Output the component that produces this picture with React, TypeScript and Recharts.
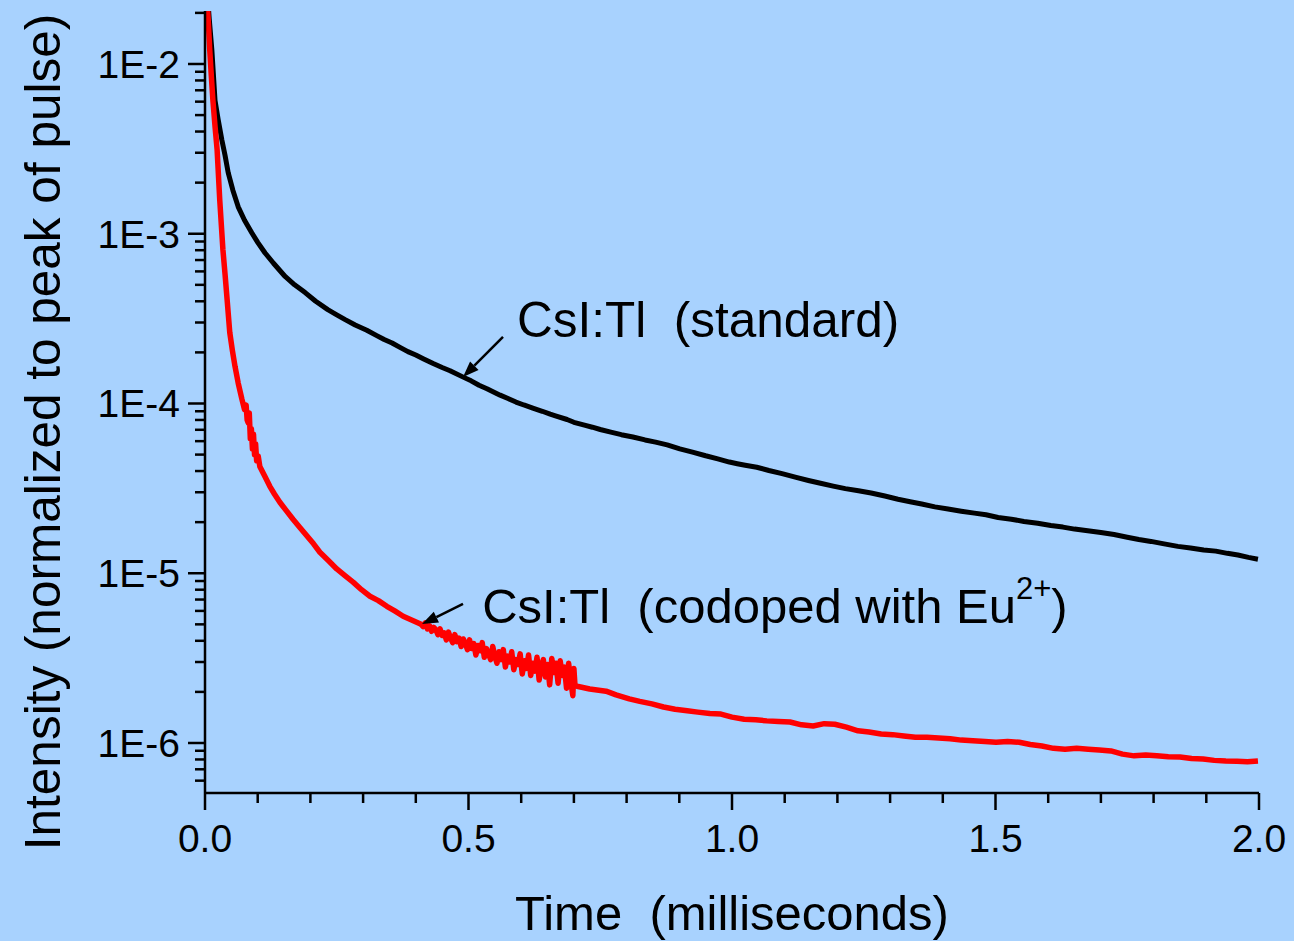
import React from 'react';
import { LineChart, Line, XAxis, YAxis, ReferenceLine, ReferenceDot, Label } from 'recharts';

// ---- data (time in ms, normalized intensity) ----
const standardTime = [
  0.003, 0.008, 0.013, 0.019, 0.025, 0.032, 0.038, 0.044, 0.053, 0.063, 0.075, 0.089, 0.1, 0.114, 0.13,
  0.152, 0.17, 0.19, 0.21, 0.233, 0.25, 0.266, 0.285, 0.307, 0.325, 0.34, 0.355, 0.37, 0.385, 0.4,
  0.415, 0.433, 0.45, 0.465, 0.49, 0.505, 0.52, 0.535, 0.56, 0.575, 0.59, 0.605, 0.622, 0.64, 0.655,
  0.665, 0.687, 0.7, 0.72, 0.735, 0.75, 0.77, 0.79, 0.812, 0.835, 0.855, 0.877, 0.901, 0.925, 0.95,
  0.973, 0.995, 1.01, 1.025, 1.047, 1.07, 1.095, 1.12, 1.145, 1.17, 1.192, 1.215, 1.24, 1.264, 1.29,
  1.315, 1.338, 1.36, 1.385, 1.41, 1.435, 1.46, 1.482, 1.505, 1.53, 1.554, 1.58, 1.605, 1.628, 1.65,
  1.675, 1.7, 1.725, 1.75, 1.772, 1.795, 1.82, 1.846, 1.87, 1.895, 1.918, 1.94, 1.96, 1.98, 1.998,
];
const standardValue = [
  3.0e-2, 1.85e-2, 1.21e-2, 6.1e-3, 4.7e-3, 3.57e-3, 2.9e-3, 2.29e-3, 1.8e-3, 1.44e-3, 1.2e-3, 1.01e-3, 8.9e-4, 7.7e-4, 6.7e-4,
  5.6e-4, 5.0e-4, 4.5e-4, 4.0e-4, 3.57e-4, 3.33e-4, 3.12e-4, 2.9e-4, 2.7e-4, 2.52e-4, 2.38e-4, 2.27e-4, 2.14e-4, 2.02e-4, 1.93e-4,
  1.83e-4, 1.72e-4, 1.63e-4, 1.56e-4, 1.43e-4, 1.36e-4, 1.28e-4, 1.22e-4, 1.12e-4, 1.07e-4, 1.02e-4, 9.8e-5, 9.4e-5, 9.0e-5, 8.65e-5,
  8.45e-5, 8.05e-5, 7.75e-5, 7.45e-5, 7.25e-5, 7.03e-5, 6.78e-5, 6.55e-5, 6.35e-5, 6.1e-5, 5.92e-5, 5.7e-5, 5.4e-5, 5.17e-5, 4.92e-5,
  4.72e-5, 4.52e-5, 4.42e-5, 4.33e-5, 4.21e-5, 4.03e-5, 3.86e-5, 3.68e-5, 3.52e-5, 3.38e-5, 3.26e-5, 3.15e-5, 3.06e-5, 2.97e-5, 2.85e-5,
  2.73e-5, 2.64e-5, 2.56e-5, 2.46e-5, 2.39e-5, 2.32e-5, 2.26e-5, 2.21e-5, 2.13e-5, 2.08e-5, 2.02e-5, 1.97e-5, 1.91e-5, 1.87e-5, 1.82e-5,
  1.78e-5, 1.74e-5, 1.69e-5, 1.63e-5, 1.58e-5, 1.54e-5, 1.49e-5, 1.44e-5, 1.41e-5, 1.37e-5, 1.35e-5, 1.31e-5, 1.28e-5, 1.24e-5, 1.21e-5,
];

const codopedTime = [
  0.002, 0.006, 0.009, 0.012, 0.015, 0.019, 0.023, 0.028, 0.034, 0.038, 0.042, 0.047, 0.052, 0.057, 0.063,
  0.07, 0.075, 0.078, 0.08, 0.082, 0.084, 0.086, 0.088, 0.09, 0.092, 0.094, 0.096, 0.098, 0.101, 0.104,
  0.113, 0.123, 0.132, 0.142, 0.155, 0.167, 0.18, 0.194, 0.206, 0.218, 0.234, 0.25, 0.265, 0.281, 0.297,
  0.313, 0.329, 0.345, 0.36, 0.376, 0.392,
  0.41, 0.414, 0.418, 0.422, 0.426, 0.43, 0.434, 0.438, 0.442, 0.446, 0.45, 0.454, 0.458, 0.462, 0.466,
  0.47, 0.474, 0.478, 0.482, 0.486, 0.49, 0.494, 0.498, 0.502, 0.506, 0.51, 0.514, 0.518, 0.522, 0.526,
  0.53, 0.534, 0.538, 0.542, 0.546, 0.55, 0.554, 0.558, 0.562, 0.566, 0.57, 0.574, 0.578, 0.582, 0.586,
  0.59, 0.594, 0.598, 0.602, 0.606, 0.61, 0.614, 0.618, 0.622, 0.626, 0.63, 0.634, 0.638, 0.642, 0.646,
  0.65, 0.654, 0.658, 0.662, 0.666, 0.67, 0.674, 0.678, 0.682, 0.686, 0.69, 0.694, 0.698, 0.7, 0.702,
  0.706, 0.73, 0.761,
  0.78, 0.805, 0.825, 0.848, 0.87, 0.892, 0.915, 0.935, 0.958, 0.979, 1.0, 1.023, 1.045, 1.066, 1.088,
  1.11, 1.132, 1.154, 1.175, 1.195, 1.217, 1.239, 1.26, 1.283, 1.305, 1.326, 1.348, 1.37, 1.392, 1.414,
  1.435, 1.457, 1.48, 1.501, 1.523, 1.545, 1.566, 1.588, 1.61, 1.632, 1.654, 1.676, 1.697, 1.719, 1.741,
  1.763, 1.785, 1.806, 1.828, 1.85, 1.872, 1.894, 1.915, 1.937, 1.958, 1.978, 1.998,
];
const codopedValue = [
  3.0e-2, 1.85e-2, 1.21e-2, 8.5e-3, 6.1e-3, 4.3e-3, 3.12e-3, 1.58e-3, 8.05e-4, 5.8e-4, 4.09e-4, 2.62e-4, 2.05e-4, 1.65e-4, 1.32e-4,
  1.06e-4, 9.2e-5, 9.8e-5, 8.0e-5, 7.7e-5, 8.8e-5, 6.2e-5, 7.1e-5, 5.4e-5, 6.6e-5, 5.0e-5, 5.8e-5, 4.6e-5, 4.9e-5, 4.26e-5,
  3.75e-5, 3.25e-5, 2.92e-5, 2.62e-5, 2.32e-5, 2.08e-5, 1.86e-5, 1.65e-5, 1.49e-5, 1.33e-5, 1.19e-5, 1.06e-5, 9.7e-6, 8.86e-6, 8.0e-6,
  7.32e-6, 6.9e-6, 6.39e-6, 6.0e-6, 5.58e-6, 5.3e-6,
  5.0e-6, 4.85e-6, 5.1e-6, 4.7e-6, 4.9e-6, 4.55e-6, 4.8e-6, 4.65e-6, 4.35e-6, 4.7e-6, 4.3e-6, 4.45e-6, 4.05e-6, 4.5e-6, 4.15e-6,
  3.9e-6, 4.35e-6, 3.95e-6, 4.15e-6, 3.7e-6, 4.1e-6, 3.85e-6, 3.55e-6, 4.05e-6, 3.6e-6, 3.85e-6, 3.3e-6, 3.75e-6, 3.5e-6, 3.9e-6,
  3.2e-6, 3.6e-6, 3.35e-6, 3.1e-6, 3.7e-6, 3.25e-6, 2.95e-6, 3.45e-6, 3.1e-6, 3.55e-6, 2.8e-6, 3.25e-6, 3.0e-6, 3.45e-6, 2.7e-6,
  3.1e-6, 2.9e-6, 3.35e-6, 2.55e-6, 3.05e-6, 2.75e-6, 3.3e-6, 2.5e-6, 2.95e-6, 2.65e-6, 3.2e-6, 2.35e-6, 2.85e-6, 3.1e-6, 2.45e-6,
  2.9e-6, 2.2e-6, 3.15e-6, 2.6e-6, 2.95e-6, 2.25e-6, 3.05e-6, 2.5e-6, 2.8e-6, 2.1e-6, 2.95e-6, 2.3e-6, 1.9e-6, 2.75e-6, 2.2e-6,
  2.16e-6, 2.08e-6, 2.02e-6,
  1.92e-6, 1.82e-6, 1.76e-6, 1.7e-6, 1.63e-6, 1.58e-6, 1.55e-6, 1.52e-6, 1.49e-6, 1.48e-6, 1.42e-6, 1.38e-6, 1.37e-6, 1.35e-6, 1.34e-6,
  1.33e-6, 1.28e-6, 1.26e-6, 1.3e-6, 1.29e-6, 1.24e-6, 1.18e-6, 1.16e-6, 1.13e-6, 1.12e-6, 1.1e-6, 1.08e-6, 1.08e-6, 1.07e-6, 1.06e-6,
  1.04e-6, 1.03e-6, 1.02e-6, 1.01e-6, 1.02e-6, 1.01e-6, 9.8e-7, 9.6e-7, 9.3e-7, 9.2e-7, 9.3e-7, 9.2e-7, 9.1e-7, 8.98e-7, 8.6e-7,
  8.4e-7, 8.5e-7, 8.4e-7, 8.3e-7, 8.28e-7, 8.1e-7, 8.05e-7, 7.9e-7, 7.83e-7, 7.8e-7, 7.75e-7, 7.83e-7,
];

const xTicks = [0, 0.1, 0.2, 0.3, 0.4, 0.5, 0.6, 0.7, 0.8, 0.9, 1, 1.1, 1.2, 1.3, 1.4, 1.5, 1.6, 1.7, 1.8, 1.9, 2];
const xMajorTicks = [0, 0.5, 1, 1.5, 2];
const xTickLabels = ['0.0', '0.5', '1.0', '1.5', '2.0'];

const yMajorTicks = [1e-2, 1e-3, 1e-4, 1e-5, 1e-6];
const yTickLabels = ['1E-2', '1E-3', '1E-4', '1E-5', '1E-6'];
const yMinorTicks = [
  2e-2,
  2e-3, 3e-3, 4e-3, 5e-3, 6e-3, 7e-3, 8e-3, 9e-3,
  2e-4, 3e-4, 4e-4, 5e-4, 6e-4, 7e-4, 8e-4, 9e-4,
  2e-5, 3e-5, 4e-5, 5e-5, 6e-5, 7e-5, 8e-5, 9e-5,
  2e-6, 3e-6, 4e-6, 5e-6, 6e-6, 7e-6, 8e-6, 9e-6,
  6e-7, 7e-7, 8e-7, 9e-7,
];
const yDomain = [5.075e-7, 2.052e-2];
const xDomain = [0, 2];

const standardLabel = { t: 0.592, v: 2.47e-4, text: 'CsI:Tl  (standard)' };
const standardArrow = { t1: 0.5655, v1: 2.466e-4, t2: 0.4896, v2: 1.432e-4 };
const codopedLabel = { t: 0.526, v: 5.09e-6, text: 'CsI:Tl  (codoped with Eu', sup: '2+' };
const codopedArrow = { t1: 0.4896, v1: 6.59e-6, t2: 0.4118, v2: 5.02e-6 };

const standardData = standardTime.map((t, i) => ({ t, v: standardValue[i] }));
const codopedData = codopedTime.map((t, i) => ({ t, v: codopedValue[i] }));

const FONT = '"Liberation Sans", Arial, Helvetica, sans-serif';
const BG = '#A8D2FE';

const close = (a: number, b: number) => Math.abs(a - b) <= Math.abs(b) * 1e-6 + 1e-12;

const XTick = (props: any) => {
  const { x, y, payload } = props;
  const idx = xMajorTicks.findIndex((m) => close(payload.value, m));
  const major = idx >= 0;
  return (
    <g>
      <line x1={x} x2={x} y1={y} y2={y + (major ? 17 : 10)} stroke="#000" strokeWidth={2.5} />
      {major && (
        <text x={x} y={y + 59} textAnchor="middle" fontSize={39} fontFamily={FONT} fill="#000">
          {xTickLabels[idx]}
        </text>
      )}
    </g>
  );
};

const YTick = (props: any) => {
  const { x, y, payload } = props;
  const idx = yMajorTicks.findIndex((m) => close(payload.value, m));
  const major = idx >= 0;
  return (
    <g>
      <line x1={x} x2={x - (major ? 17 : 10)} y1={y} y2={y} stroke="#000" strokeWidth={2.5} />
      {major && (
        <text x={x - 25} y={y + 14} textAnchor="end" fontSize={39} fontFamily={FONT} fill="#000">
          {yTickLabels[idx]}
        </text>
      )}
    </g>
  );
};

const XTitle = (props: any) => {
  const vb = props.viewBox;
  return (
    <text
      x={vb.x + vb.width / 2}
      y={vb.y + 137}
      textAnchor="middle"
      fontSize={49}
      fontFamily={FONT}
      fill="#000"
      style={{ whiteSpace: 'pre' }}
    >
      {'Time  (milliseconds)'}
    </text>
  );
};

const YTitle = (props: any) => {
  const vb = props.viewBox;
  const cx = vb.x + 60;
  const cy = vb.y + vb.height / 2 + 30;
  return (
    <text
      x={cx}
      y={cy}
      transform={`rotate(-90, ${cx}, ${cy})`}
      textAnchor="middle"
      fontSize={49.5}
      fontFamily={FONT}
      fill="#000"
      style={{ whiteSpace: 'pre' }}
    >
      Intensity (normalized to peak of pulse)
    </text>
  );
};

const Arrow = (props: any) => {
  const { x1, y1, x2, y2 } = props;
  const dx = x2 - x1;
  const dy = y2 - y1;
  const len = Math.sqrt(dx * dx + dy * dy) || 1;
  const ux = dx / len;
  const uy = dy / len;
  const headLen = 16;
  const headW = 6;
  const bx = x2 - ux * headLen;
  const by = y2 - uy * headLen;
  const p1 = `${bx - uy * headW},${by + ux * headW}`;
  const p2 = `${bx + uy * headW},${by - ux * headW}`;
  return (
    <g>
      <line x1={x1} y1={y1} x2={bx} y2={by} stroke="#000" strokeWidth={2.5} />
      <polygon points={`${x2},${y2} ${p1} ${p2}`} fill="#000" />
    </g>
  );
};

const StandardText = (props: any) => (
  <text x={props.cx} y={props.cy} fontSize={49.5} fontFamily={FONT} fill="#000" style={{ whiteSpace: 'pre' }}>
    {standardLabel.text}
  </text>
);

const CodopedText = (props: any) => (
  <text x={props.cx} y={props.cy} fontSize={49} fontFamily={FONT} fill="#000" style={{ whiteSpace: 'pre' }}>
    {codopedLabel.text}
    <tspan dy={-24} fontSize={31}>{codopedLabel.sup}</tspan>
    <tspan dy={24}>)</tspan>
  </text>
);

export default function App() {
  return (
    <div style={{ position: 'absolute', left: 0, top: 0, width: 1294, height: 941, background: BG, overflow: 'hidden' }}>
      <LineChart width={1294} height={941} margin={{ top: 11, right: 35, bottom: 0, left: 0 }}>
        <XAxis
          dataKey="t"
          type="number"
          domain={xDomain}
          ticks={xTicks}
          interval={0}
          tick={<XTick />}
          tickLine={false}
          tickSize={0}
          tickMargin={0}
          height={148}
          axisLine={{ stroke: '#000', strokeWidth: 2.5 }}
          allowDuplicatedCategory={false}
        >
          <Label content={<XTitle />} />
        </XAxis>
        <YAxis
          dataKey="v"
          type="number"
          scale="log"
          domain={yDomain}
          allowDataOverflow
          ticks={[...yMajorTicks, ...yMinorTicks]}
          interval={0}
          tick={<YTick />}
          tickLine={false}
          tickSize={0}
          tickMargin={0}
          width={205}
          axisLine={{ stroke: '#000', strokeWidth: 2.5 }}
        >
          <Label content={<YTitle />} />
        </YAxis>
        <Line
          data={standardData}
          dataKey="v"
          type="linear"
          stroke="#000"
          strokeWidth={5}
          strokeLinejoin="round"
          dot={false}
          isAnimationActive={false}
        />
        <Line
          data={codopedData}
          dataKey="v"
          type="linear"
          stroke="#FF0000"
          strokeWidth={5.5}
          strokeLinejoin="round"
          dot={false}
          isAnimationActive={false}
        />
        <ReferenceLine
          segment={[
            { x: standardArrow.t1, y: standardArrow.v1 },
            { x: standardArrow.t2, y: standardArrow.v2 },
          ]}
          shape={<Arrow />}
          ifOverflow="visible"
        />
        <ReferenceLine
          segment={[
            { x: codopedArrow.t1, y: codopedArrow.v1 },
            { x: codopedArrow.t2, y: codopedArrow.v2 },
          ]}
          shape={<Arrow />}
          ifOverflow="visible"
        />
        <ReferenceDot x={standardLabel.t} y={standardLabel.v} r={1} shape={<StandardText />} ifOverflow="visible" />
        <ReferenceDot x={codopedLabel.t} y={codopedLabel.v} r={1} shape={<CodopedText />} ifOverflow="visible" />
      </LineChart>
    </div>
  );
}
